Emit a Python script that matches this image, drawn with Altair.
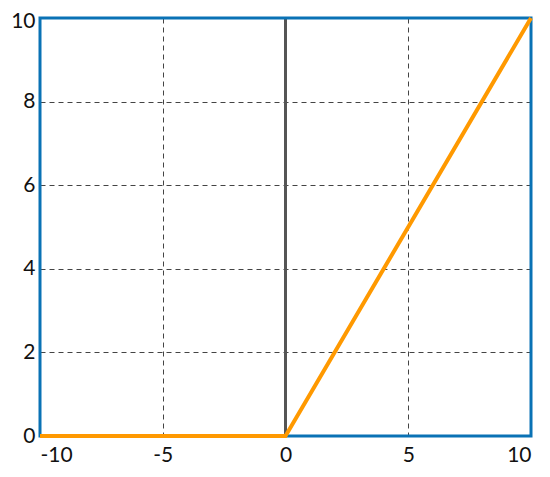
import altair as alt
import pandas as pd

xs = [-10, 0, 10]
ys = [0, 0, 10]
x_ticks = [-10, -5, 0, 5, 10]
y_ticks = [0, 2, 4, 6, 8, 10]

df = pd.DataFrame({"x": xs, "y": ys})
frame_df = pd.DataFrame({"x": [-10], "x2": [10], "y": [0], "y2": [10]})
zero_df = pd.DataFrame({"x": [0], "y": [0], "y2": [10]})

xscale = alt.Scale(domain=[-10, 10], nice=False, zero=False)
yscale = alt.Scale(domain=[0, 10], nice=False)

axis_common = dict(grid=True, ticks=False, domain=False, labelFontSize=21,
                   labelColor="#111", gridDash=[5, 4], gridColor="#444",
                   gridWidth=1, labelFont="Lato", labelExpr="toString(datum.value)")

base_x = alt.X("x:Q", scale=xscale, title=None,
               axis=alt.Axis(values=x_ticks, labelPadding=8, **axis_common))
base_y = alt.Y("y:Q", scale=yscale, title=None,
               axis=alt.Axis(values=y_ticks, labelPadding=5,
                             labelOffset={"condition": {"test": "datum.value == 10", "value": 3}, "value": 0},
                             **axis_common))

zero_rule = alt.Chart(zero_df).mark_rule(color="#555555", strokeWidth=3).encode(
    x=alt.X("x:Q", scale=xscale), y=alt.Y("y:Q", scale=yscale), y2="y2:Q")

frame = alt.Chart(frame_df).mark_rect(fill=None, stroke="#0a72b5", strokeWidth=3).encode(
    x=alt.X("x:Q", scale=xscale), x2="x2:Q",
    y=alt.Y("y:Q", scale=yscale), y2="y2:Q")

chart = alt.layer(
    alt.Chart(df).mark_line(opacity=0).encode(x=base_x, y=base_y),
    zero_rule, frame,
    alt.Chart(df).mark_line(color="#ff9900", strokeWidth=4).encode(
        x=alt.X("x:Q", scale=xscale), y=alt.Y("y:Q", scale=yscale)),
).properties(
    width=491, height=418,
    autosize=alt.AutoSizeParams(type="none"),
    padding={"left": 32, "top": 10, "right": 11, "bottom": 33},
).configure_view(stroke=None)

chart.save("out.html", embed_options={"renderer": "svg", "actions": False})
